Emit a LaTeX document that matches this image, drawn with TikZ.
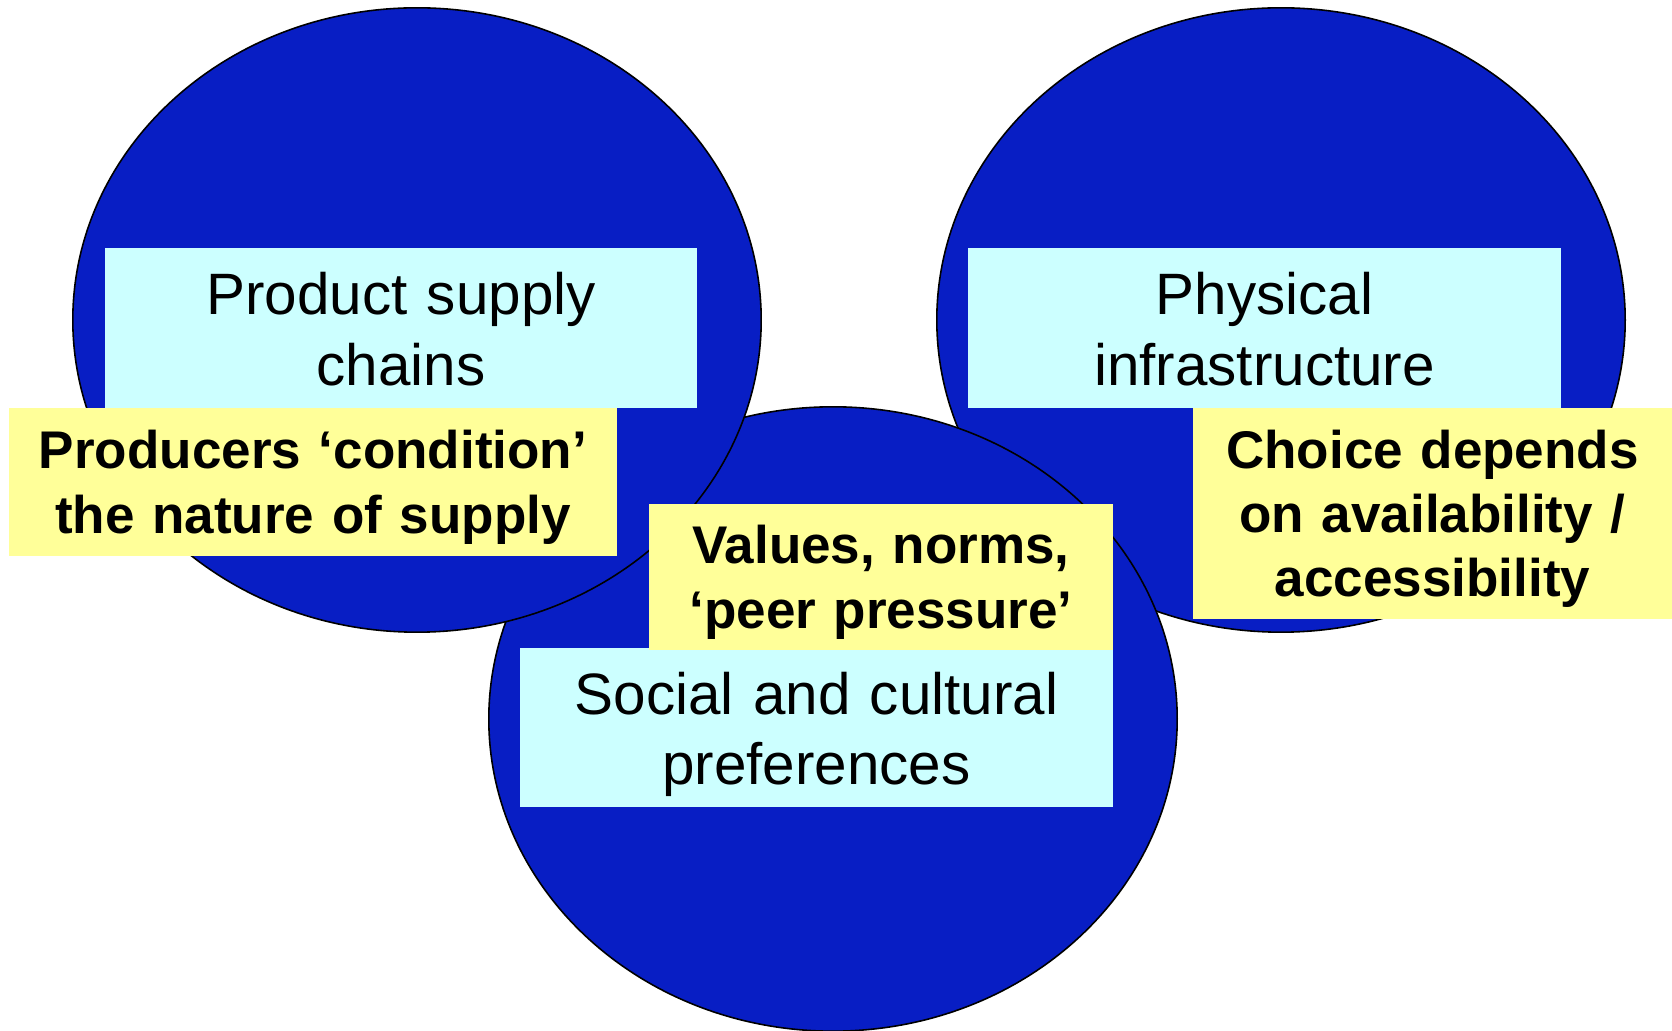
\documentclass[tikz,border=0pt]{standalone}
\usepackage{fontspec}
\setmainfont{Liberation Sans}
\usepackage{tikz}
\usepgflibrary{shapes.geometric}
\definecolor{ovalblue}{RGB}{8,30,196}
\definecolor{boxcyan}{RGB}{204,255,255}
\definecolor{boxyellow}{RGB}{255,255,153}
\newcommand{\cstrut}{\rule[-0.13cm]{0pt}{0.70cm}}
\newcommand{\ystrut}{\rule[-0.13cm]{0pt}{0.64cm}}

\begin{document}
\begin{tikzpicture}[x=0.01cm,y=-0.01cm,
    oval/.style={draw,ellipse,fill=ovalblue,line width=0.45pt,inner sep=0pt,minimum width=6.88cm,minimum height=6.24cm},
    topic/.style={fill=boxcyan,inner sep=0pt,align=center,font=\fontsize{16.6}{19.92}\selectfont},
    note/.style={fill=boxyellow,inner sep=0pt,align=center,font=\fontsize{15.08}{18.21}\selectfont\bfseries}]
      \useasboundingbox (0, 0) rectangle (1672, 1031);

      \node[oval] (infra) at (1281, 320) {};
      \node[oval] (social) at (833, 719) {};
      \node[oval] (supply) at (417, 320) {};

      \node[topic,text width=5.925cm,minimum height=1.6cm] (supplytxt) at (401, 328) {\cstrut Product supply\\\cstrut chains};
      \node[topic,text width=5.93cm,minimum height=1.6cm] (infratxt) at (1264.5, 328) {\cstrut Physical\\\cstrut infrastructure};
      \node[topic,text width=5.93cm,minimum height=1.59cm] (socialtxt) at (816.5, 727.5) {\cstrut Social and cultural\\\cstrut preferences};

      \node[note,text width=6.085cm,minimum height=1.48cm] (supplynote) at (313, 482) {\ystrut Producers ‘condition’\\\ystrut the nature of supply};
      \node[note,text width=4.64cm,minimum height=1.46cm] (socialnote) at (881, 577) {\ystrut Values, norms,\\\ystrut ‘peer pressure’};
      \node[note,text width=4.79cm,minimum height=2.11cm] (infranote) at (1432.5, 513.5) {\ystrut Choice depends\\\ystrut on availability /\\\ystrut accessibility};
    \end{tikzpicture}
\end{document}
